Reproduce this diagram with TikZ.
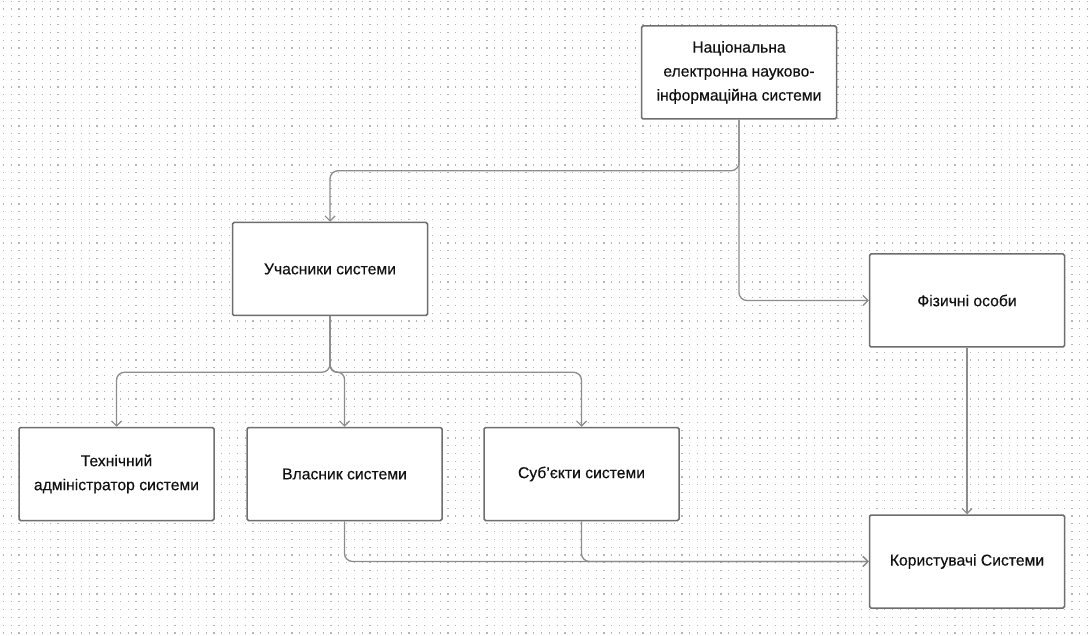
\documentclass[tikz,border=0pt]{standalone}
\usepackage{fontspec}
\setmainfont{Liberation Sans}
\newfontfamily\boxfont{Liberation Sans}[UprightFeatures={FakeBold=0.35}]
\usetikzlibrary{arrows.meta}
\definecolor{boxline}{HTML}{6E6E6E}
\definecolor{connline}{HTML}{8C8C8C}
\definecolor{dotgray}{HTML}{B4B4B4}
\definecolor{ink}{HTML}{111111}
\tikzset{
  box/.style={draw=boxline, line width=1.5pt, fill=white, rounded corners=1.5pt,
    minimum width=195pt, minimum height=93pt, align=center, text=ink,
    font=\boxfont\fontsize{15.7}{24}\selectfont, inner sep=2pt},
  conn/.style={draw=connline, line width=1.3pt, rounded corners=8pt,
    -{Straight Barb[length=5pt,width=10pt,line width=1.2pt]}},
  dotrow/.style={draw=dotgray, line width=1.1pt, dash pattern=on 1.1pt off 6.7pt}
}
\begin{document}
\begin{tikzpicture}[x=1pt,y=-1pt]
\useasboundingbox (0,0) rectangle (1090,636);
\fill[white] (0,0) rectangle (1090,636);
% dotted background grid
\foreach \k in {0,...,81} {
  \draw[dotrow] (2.8,{1.2+\k*7.8}) -- (1090,{1.2+\k*7.8});
}
% boxes
\node[box] (top) at (739,72.5) {Національна\\електронна науково-\\інформаційна системи};
\node[box] (uch) at (330,269) {Учасники системи};
\node[box] (tech) at (116.5,474) {Технічний\\адміністратор системи};
\node[box] (vl) at (344.5,474) {Власник системи};
\node[box] (sub) at (581.5,474) {Суб’єкти системи};
\node[box] (fiz) at (967,300.5) {Фізичні особи};
\node[box] (kor) at (967,561.5) {Користувачі Системи};
% branch points (below the source boxes)
\coordinate (b1) at ([yshift=-51pt]top.south);
\coordinate (b2) at ([yshift=-56pt]uch.south);
% connectors
\path[conn] (top.south) -- (b1) -| (uch.north);
\path[conn] (top.south) |- (fiz.west);
\path[conn] (uch.south) -- (b2) -| (tech.north);
\path[conn, rounded corners=7pt] (uch.south) -- (b2) -| (vl.north);
\path[conn] (uch.south) -- (b2) -| (sub.north);
\path[conn] (fiz.south) -- (kor.north);
\path[conn] (vl.south) |- (kor.west);
\path[conn] (sub.south) |- (kor.west);
\end{tikzpicture}
\end{document}
